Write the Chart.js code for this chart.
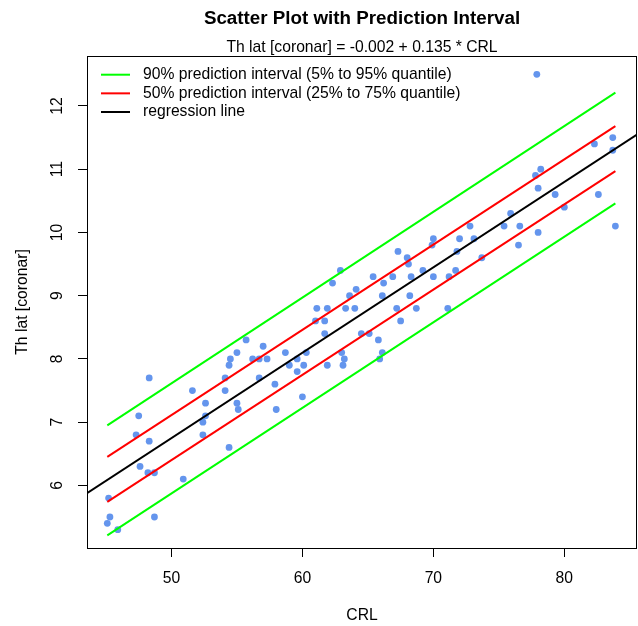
<!DOCTYPE html>
<html>
<head>
<meta charset="utf-8">
<script src="https://cdn.jsdelivr.net/npm/chart.js@4.4.1/dist/chart.umd.min.js"></script>
<style>
  html, body { margin: 0; background: #fff; }
</style>
</head>
<body>
<canvas id="chart" width="638" height="626"></canvas>
<script>
// ---- data ----
const crl = [
  55.7, 57.0, 55.0, 54.5, 56.2, 56.7, 57.3, 54.4, 48.3, 54.1, 56.7, 57.9, 51.6, 54.1, 52.6, 55.0, 55.1,
  58.0, 47.5, 52.6, 52.4, 47.3, 48.3, 52.4, 54.4, 47.6, 48.2, 48.7, 50.9, 45.2, 45.3, 48.7, 45.1, 45.9,
  62.9, 62.3, 67.3, 68.0, 68.1, 70.0, 69.9, 72.0, 71.8, 65.4, 66.2, 66.9, 68.3, 69.2, 70.0, 71.2, 71.7,
  64.1, 63.6, 66.1, 68.2, 61.1, 61.9, 63.3, 64.0, 61.0, 61.7, 67.2, 68.7, 67.5, 71.1, 61.7, 64.5, 65.1,
  65.8, 58.7, 60.3, 59.6, 59.0, 60.1, 59.6, 61.9, 63.0, 63.2, 63.1, 66.1, 65.9, 60.0,
  77.9, 83.7, 82.3, 83.7, 78.2, 77.8, 78.0, 79.3, 82.6, 80.0, 75.9, 72.8, 75.4, 76.6, 83.9, 73.1, 78.0,
  76.5, 73.7
];
const thLat = [
  8.3, 8.2, 8.1, 8.0, 8.0, 8.0, 8.0, 7.9, 7.7, 7.7, 7.7, 7.6, 7.5, 7.5, 7.3, 7.3, 7.2,
  7.2, 7.1, 7.1, 7.0, 6.8, 6.7, 6.8, 6.6, 6.3, 6.2, 6.2, 6.1, 5.8, 5.5, 5.5, 5.4, 5.3,
  9.4, 9.2, 9.7, 9.6, 9.5, 9.9, 9.8, 9.9, 9.7, 9.3, 9.2, 9.3, 9.3, 9.4, 9.3, 9.3, 9.4,
  9.1, 9.0, 9.0, 9.0, 8.8, 8.8, 8.8, 8.8, 8.6, 8.6, 8.8, 8.8, 8.6, 8.8, 8.4, 8.4, 8.4,
  8.3, 8.1, 8.1, 8.0, 7.9, 7.9, 7.8, 7.9, 8.1, 8.0, 7.9, 8.1, 8.0, 7.4,
  12.5, 11.5, 11.4, 11.3, 11.0, 10.9, 10.7, 10.6, 10.6, 10.4, 10.3, 10.1, 10.1, 10.1, 10.1, 9.9, 10.0,
  9.8, 9.6
];

const intercept = -0.002;
const slope = 0.135;

const bandCrl = [45.1, 83.9];
const upper90 = [6.95, 12.21];
const upper50 = [6.45, 11.68];
const lower50 = [5.74, 10.97];
const lower90 = [5.21, 10.46];

const xTicks = [50, 60, 70, 80];
const yTicks = [6, 7, 8, 9, 10, 11, 12];
const xRange = [43.55, 85.55];
const yRange = [5.01, 12.79];

const legendLabels = [
  '90% prediction interval (5% to 95% quantile)',
  '50% prediction interval (25% to 75% quantile)',
  'regression line'
];

const GREEN = '#00ff00';
const RED = '#ff0000';
const BLACK = '#000000';
const legendColors = [GREEN, RED, BLACK];

const FAMILY = '"Liberation Sans", Arial, Helvetica, sans-serif';
const font = { family: FAMILY, size: 15.7 };

const pair = (xs, ys) => xs.map((x, i) => ({ x, y: ys[i] }));
const lineSet = (data, color) => ({
  data, showLine: true, borderColor: color, borderWidth: 2,
  pointRadius: 0, fill: false, tension: 0
});

// titles, box, rotated y labels, legend
const decorations = {
  id: 'decorations',
  afterDraw(chart) {
    const { ctx, chartArea: a, scales: { y } } = chart;
    ctx.save();
    ctx.strokeStyle = '#000';
    ctx.lineWidth = 1;
    ctx.strokeRect(a.left + 0.5, a.top + 0.5, a.right - a.left - 1, a.bottom - a.top);

    ctx.fillStyle = '#000';
    ctx.textAlign = 'center';
    ctx.textBaseline = 'middle';
    const cx = (a.left + a.right) / 2;
    ctx.font = `bold 18.8px ${FAMILY}`;
    ctx.fillText('Scatter Plot with Prediction Interval', cx, 19);
    ctx.font = `15.7px ${FAMILY}`;
    ctx.fillText('Th lat [coronar] = -0.002 + 0.135 * CRL', cx, 48);

    yTicks.forEach(v => {
      ctx.save();
      ctx.translate(58, y.getPixelForValue(v));
      ctx.rotate(-Math.PI / 2);
      ctx.fillText(String(v), 0, 0);
      ctx.restore();
    });

    ctx.textAlign = 'left';
    legendLabels.forEach((label, i) => {
      const ly = 74.7 + i * 18.65;
      ctx.strokeStyle = legendColors[i];
      ctx.lineWidth = 2;
      ctx.beginPath();
      ctx.moveTo(101, ly);
      ctx.lineTo(130, ly);
      ctx.stroke();
      ctx.fillText(label, 143, ly);
    });
    ctx.restore();
  }
};

new Chart(document.getElementById('chart'), {
  type: 'scatter',
  data: {
    datasets: [
      lineSet(pair(bandCrl, upper90), GREEN),
      lineSet(pair(bandCrl, lower90), GREEN),
      lineSet(pair(bandCrl, upper50), RED),
      lineSet(pair(bandCrl, lower50), RED),
      lineSet(xRange.map(x => ({ x, y: intercept + slope * x })), BLACK),
      {
        data: pair(crl, thLat),
        backgroundColor: '#6495ed',
        borderWidth: 0,
        pointRadius: 3.4
      }
    ]
  },
  options: {
    responsive: false,
    animation: false,
    layout: { autoPadding: false, padding: { top: 56, right: 1, left: 0, bottom: 0 } },
    plugins: { legend: { display: false }, tooltip: { enabled: false } },
    scales: {
      x: {
        type: 'linear',
        min: xRange[0],
        max: xRange[1],
        afterBuildTicks: s => { s.ticks = xTicks.map(v => ({ value: v })); },
        afterFit: s => { s.height = 78; s.paddingLeft = 0; s.paddingRight = 0; },
        border: { display: false },
        grid: { drawOnChartArea: false, tickLength: 9, color: '#000', lineWidth: 1 },
        ticks: { font, color: '#000', padding: 12 },
        title: { display: true, text: 'CRL', font, color: '#000', padding: { top: 0, bottom: 1 } }
      },
      y: {
        type: 'linear',
        min: yRange[0],
        max: yRange[1],
        afterBuildTicks: s => { s.ticks = yTicks.map(v => ({ value: v })); },
        afterFit: s => { s.width = 87; s.paddingTop = 0; s.paddingBottom = 0; },
        border: { display: false },
        grid: { drawOnChartArea: false, tickLength: 9, color: '#000', lineWidth: 1 },
        ticks: { display: false },
        title: { display: true, text: 'Th lat [coronar]', font, color: '#000', padding: { top: 13.5, bottom: 0 } }
      }
    }
  },
  plugins: [decorations]
});
</script>
</body>
</html>
